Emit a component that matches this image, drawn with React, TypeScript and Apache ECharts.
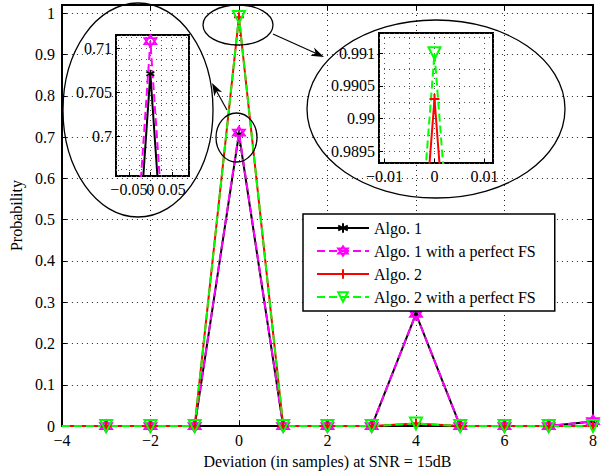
import React, { useEffect, useRef } from 'react';
import * as echarts from 'echarts';

// ---------- data ----------
const deviations = [-4, -3, -2, -1, 0, 1, 2, 3, 4, 5, 6, 7, 8];
const algo1 = [0, 0, 0, 0, 0.7071, 0, 0, 0, 0.272, 0, 0, 0, 0.011];
const algo1FS = [0, 0, 0, 0, 0.7108, 0, 0, 0, 0.272, 0, 0, 0, 0.012];
const algo2 = [0, 0, 0, 0, 0.9903, 0, 0, 0, 0.006, 0, 0, 0, 0];
const algo2FS = [0, 0, 0, 0, 0.991, 0, 0, 0, 0.006, 0, 0, 0, 0];
const seriesNames = ['Algo. 1', 'Algo. 1 with a perfect FS', 'Algo. 2', 'Algo. 2 with a perfect FS'];
const xAxisTitle = 'Deviation (in samples) at SNR = 15dB';
const yAxisTitle = 'Probability';

const FONT = 'Liberation Serif';

const ASTERISK = 'path://M0,-10L0,10M-8.66,-5L8.66,5M-8.66,5L8.66,-5';
const HEXAGRAM = 'path://M0,-10L8.66,5L-8.66,5ZM0,10L8.66,-5L-8.66,-5Z';
const PLUS = 'path://M0,-10L0,10M-10,0L10,0';
const TRIDOWN = 'path://M-10,-8.66L10,-8.66L0,8.66Z';

const styles = [
  { color: '#000000', dash: 'solid' as any, symbol: ASTERISK, size: 8, bw: 1.5 },
  { color: '#ff00ff', dash: [8, 4] as any, symbol: HEXAGRAM, size: 12, bw: 1.8 },
  { color: '#ff0000', dash: 'solid' as any, symbol: PLUS, size: 10, bw: 2 },
  { color: '#00ff00', dash: [8, 4] as any, symbol: TRIDOWN, size: 12, bw: 2 },
];
const values = [algo1, algo1FS, algo2, algo2FS];

const fmtNum = (v: number) => String(parseFloat(v.toFixed(6))).replace('-', '\u2212');
const onMultiple = (step: number) => (v: number) =>
  Math.abs(v / step - Math.round(v / step)) < 1e-6 ? fmtNum(v) : '';

const labelStyle = { fontFamily: FONT, fontSize: 16, color: '#000' };
const dotted = { color: '#222', type: [1, 4] as any, width: 1 };
const dottedInset = { color: '#555', type: [1, 4] as any, width: 1 };

function mkSeries(i: number, axisIndex: number, z: number) {
  const s = styles[i];
  return {
    type: 'line',
    name: seriesNames[i],
    xAxisIndex: axisIndex,
    yAxisIndex: axisIndex,
    z,
    data: deviations.map((x, k) => [x, values[i][k]]),
    symbol: s.symbol,
    symbolSize: (v: number[]) => (v[0] === -4 ? 0 : s.size),
    showAllSymbol: true,
    color: s.color,
    lineStyle: { color: s.color, width: 2, type: s.dash },
    itemStyle: { color: 'rgba(255,255,255,0)', borderColor: s.color, borderWidth: s.bw },
    clip: true,
    silent: true,
    emphasis: { disabled: true },
  };
}

function insetX(gridIndex: number, min: number, max: number, step: number, minorSplit: number) {
  return {
    type: 'value', gridIndex, min, max, minInterval: step, maxInterval: step, z: 4,
    axisLine: { show: false, onZero: false },
    axisTick: { show: true, inside: true, length: 4, lineStyle: { color: '#000' } },
    axisLabel: { ...labelStyle, margin: 5, formatter: onMultiple(step) },
    splitLine: { show: true, lineStyle: dottedInset },
    minorTick: { show: false, splitNumber: minorSplit },
    minorSplitLine: { show: true, lineStyle: dottedInset },
  };
}
function insetY(gridIndex: number, min: number, max: number, step: number, minorSplit: number) {
  return {
    type: 'value', gridIndex, min, max, minInterval: step, maxInterval: step, z: 4,
    axisLine: { show: false, onZero: false },
    axisTick: { show: true, inside: true, length: 4, lineStyle: { color: '#000' } },
    axisLabel: { ...labelStyle, margin: 4, formatter: onMultiple(step) },
    splitLine: { show: true, lineStyle: dottedInset },
    minorTick: { show: false, splitNumber: minorSplit },
    minorSplitLine: { show: true, lineStyle: dottedInset },
  };
}

function arrow(x1: number, y1: number, x2: number, y2: number) {
  const dx = x2 - x1, dy = y2 - y1;
  const len = Math.hypot(dx, dy);
  const ux = dx / len, uy = dy / len;
  const nx = -uy, ny = ux;
  const L = 13, W = 4.5;
  const bx = x2 - L * ux, by = y2 - L * uy;
  return [
    { type: 'line', z: 10, shape: { x1, y1, x2: x2 - 0.6 * L * ux, y2: y2 - 0.6 * L * uy }, style: { stroke: '#000', lineWidth: 1.2 } },
    {
      type: 'polygon', z: 10,
      shape: { points: [[x2, y2], [bx + W * nx, by + W * ny], [x2 - 0.7 * L * ux, y2 - 0.7 * L * uy], [bx - W * nx, by - W * ny]] },
      style: { fill: '#000' },
    },
  ];
}

const ell = (cx: number, cy: number, rx: number, ry: number) => ({
  type: 'ellipse', z: 10, shape: { cx, cy, rx, ry }, style: { fill: 'none', stroke: '#000', lineWidth: 1.3 },
});

export default function App() {
  const ref = useRef<HTMLDivElement>(null);
  useEffect(() => {
    if (!ref.current) return;
    const chart = echarts.init(ref.current, undefined, { renderer: 'svg' });
    const mainAxisCommon = {
      axisLine: { show: true, onZero: false, lineStyle: { color: '#000', width: 2 } },
      axisTick: { show: true, inside: true, length: 5, lineStyle: { color: '#000', width: 1 } },
    };
    const option: any = {
      animation: false,
      backgroundColor: '#fff',
      textStyle: { fontFamily: FONT },
      grid: [
        { left: 57, right: 8, top: 5, bottom: 46, show: false },
        { left: 116, top: 35, width: 73, height: 141, show: true, z: 3, backgroundColor: '#fff', borderColor: '#000', borderWidth: 2 },
        { left: 379, top: 33, width: 114, height: 130, show: true, z: 3, backgroundColor: '#fff', borderColor: '#000', borderWidth: 2 },
      ],
      xAxis: [
        {
          type: 'value', gridIndex: 0, min: -4, max: 8, interval: 2, position: 'bottom',
          ...mainAxisCommon,
          axisLabel: { ...labelStyle, margin: 6, formatter: onMultiple(2) },
          splitLine: { show: true, lineStyle: dotted },
          name: xAxisTitle, nameLocation: 'middle', nameGap: 24,
          nameTextStyle: { ...labelStyle },
        },
        insetX(1, -0.08, 0.09, 0.05, 2),
        insetX(2, -0.0111, 0.0117, 0.01, 2),
        {
          type: 'value', gridIndex: 0, min: -4, max: 8, interval: 2, position: 'top',
          ...mainAxisCommon, axisLabel: { show: false }, splitLine: { show: false },
        },
      ],
      yAxis: [
        {
          type: 'value', gridIndex: 0, min: 0, max: 1.02, interval: 0.1, position: 'left',
          ...mainAxisCommon,
          axisLabel: { ...labelStyle, margin: 7, formatter: onMultiple(0.1) },
          splitLine: { show: true, lineStyle: dotted },
          name: yAxisTitle, nameLocation: 'middle', nameGap: 32,
          nameTextStyle: { ...labelStyle },
        },
        insetY(1, 0.6955, 0.7115, 0.005, 4),
        insetY(2, 0.98932, 0.99131, 0.0005, 2),
        {
          type: 'value', gridIndex: 0, min: 0, max: 1.02, interval: 0.1, position: 'right',
          ...mainAxisCommon, axisLabel: { show: false }, splitLine: { show: false },
        },
      ],
      legend: {
        data: seriesNames,
        orient: 'vertical',
        left: 303, top: 214,
        padding: [6, 19, 6, 13],
        itemGap: 7, itemWidth: 52, itemHeight: 12,
        backgroundColor: '#fff', borderColor: '#000', borderWidth: 1.5, borderRadius: 0,
        textStyle: { ...labelStyle },
        selectedMode: false,
        z: 6,
      },
      series: [
        ...[0, 1, 2, 3].map((i) => mkSeries(i, 0, 2)),
        ...[0, 1, 2, 3].map((i) => mkSeries(i, 1, 5)),
        ...[0, 1, 2, 3].map((i) => mkSeries(i, 2, 5)),
      ],
      graphic: [
        ell(138, 110, 75, 107),
        ell(236.5, 137.5, 20.5, 24.5),
        ell(238, 25, 35, 20),
        ell(436, 109, 129, 89),
        ...arrow(227, 110, 212, 83),
        ...arrow(273, 34, 324, 57),
      ],
    };
    chart.setOption(option);
    return () => chart.dispose();
  }, []);
  return <div ref={ref} style={{ position: 'fixed', left: 0, top: 0, width: 601, height: 474 }} />;
}
